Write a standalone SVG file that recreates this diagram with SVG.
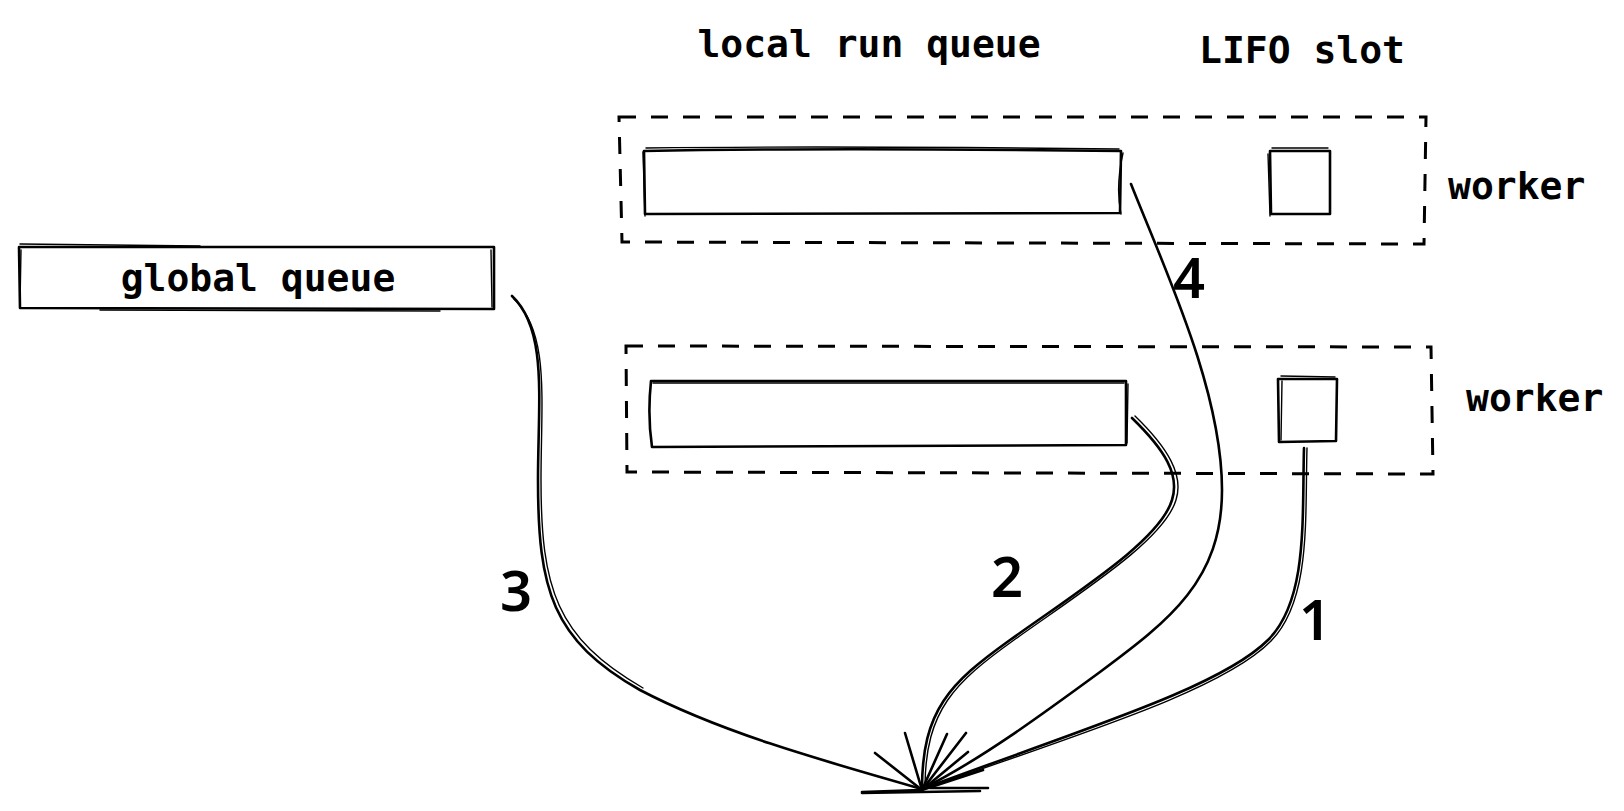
<svg xmlns="http://www.w3.org/2000/svg" width="1624" height="811" viewBox="0 0 1624 811">
<style>
.bg{fill:#fff}
.sk{fill:none;stroke:#000;stroke-width:2.6;stroke-linecap:round;stroke-linejoin:round}
.sk2{fill:none;stroke:#000;stroke-width:1.4;stroke-linecap:round}
.dash{fill:none;stroke:#000;stroke-width:3;stroke-dasharray:17 15}
.lbl{font-family:"DejaVu Sans Mono","Liberation Mono",monospace;font-size:38px;font-weight:bold;fill:#000}
.num{font-family:"Noto Sans","Liberation Sans",sans-serif;font-size:56px;font-weight:600;fill:#000}
</style>
<rect class="bg" width="1624" height="811"/>
<g id="title-local"><text class="lbl" x="869" y="57" text-anchor="middle">local run queue</text></g>
<g id="title-lifo"><text class="lbl" x="1302" y="63" text-anchor="middle">LIFO slot</text></g>
<g id="worker1">
  <path class="dash" d="M619,117 L1426,117 L1424,244 L622,242 Z"/>
  <path class="sk" d="M644,151 C800,148 950,149 1121,151 L1120,213 L645,214 Z"/>
  <path class="sk2" d="M646,148 C800,146 950,147 1119,149 M643,152 L645,216 M1123,153 C1117,180 1118,200 1121,214"/>
  <path class="sk" d="M1270,151 L1330,151 L1330,214 L1271,214 Z"/>
  <path class="sk2" d="M1272,148 L1328,148 M1268,154 L1270,216"/>
  <text class="lbl" x="1448" y="199">worker</text>
</g>
<g id="worker2">
  <path class="dash" d="M626,346 L1431,347 L1433,474 L627,472 Z"/>
  <path class="sk" d="M651,381 L1126,381 L1126,445 L652,447 C648,420 649,400 651,381 Z"/>
  <path class="sk2" d="M653,383 L1124,383 M1128,384 L1127,443"/>
  <path class="sk" d="M1278,379 L1337,379 L1336,441 L1279,442 Z"/>
  <path class="sk2" d="M1281,376 L1335,377 M1282,381 L1281,440"/>
  <text class="lbl" x="1466" y="411">worker</text>
</g>
<g id="global-queue">
  <path class="sk" d="M19,247 L494,247 L494,309 L20,308 Z"/>
  <path class="sk2" d="M20,244 L200,246 M21,250 L20,305 M100,310 L440,311 M491,250 L492,307"/>
  <text class="lbl" x="258" y="291" text-anchor="middle">global queue</text>
</g>
<g id="target">
  <path class="sk" d="M862,793 L980,791"/>
</g>
<g id="connectors">
  <path class="sk" d="M512,296 C548,330 538,400 538,480 C538,590 552,640 640,690 C720,732 820,760 922,789"/>
  <path class="sk2" d="M514,299 C550,333 541,400 541,480 C541,588 556,638 643,688"/>
  <path class="sk" d="M875,753 L922,790 M862,792 L920,790"/>
  <path class="sk" d="M1132,418 C1165,450 1180,475 1172,500 C1160,540 1080,590 1010,640 C950,683 922,710 922,789"/>
  <path class="sk2" d="M1135,416 C1168,448 1184,475 1176,500 C1164,540 1084,590 1014,640 C954,683 926,710 925,785"/>
  <path class="sk" d="M905,733 L922,790 M947,734 L922,790"/>
  <path class="sk" d="M1131,184 C1165,270 1222,390 1222,490 C1222,580 1170,620 1100,672 C1040,716 980,760 922,789"/>
  <path class="sk" d="M966,733 L922,790 M983,770 L922,790"/>
  <path class="sk" d="M1304,448 C1302,520 1308,600 1268,640 C1220,688 1080,730 922,789"/>
  <path class="sk2" d="M1307,448 C1305,520 1311,600 1271,641 C1223,690 1085,732 930,787"/>
  <path class="sk" d="M968,752 L922,790 M988,788 L930,788"/>
</g>
<g id="labels">
  <text class="num" x="516" y="611" text-anchor="middle">3</text>
  <text class="num" x="1007" y="597" text-anchor="middle">2</text>
  <text class="num" x="1315" y="640" text-anchor="middle">1</text>
  <text class="num" x="1189" y="298" text-anchor="middle">4</text>
</g>
</svg>
